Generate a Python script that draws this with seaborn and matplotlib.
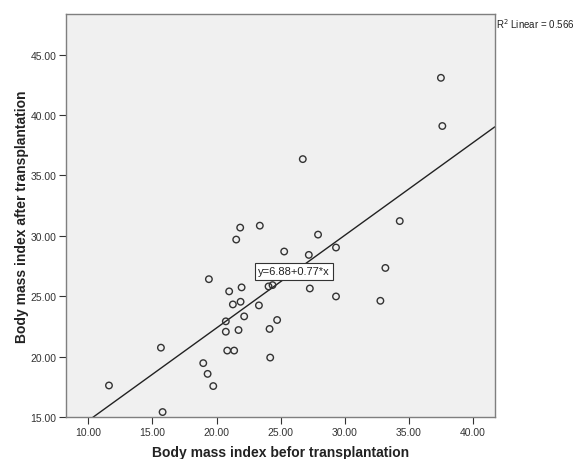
import numpy as np
import pandas as pd
import matplotlib
matplotlib.use("Agg")
import matplotlib.pyplot as plt
import seaborn as sns

# -- values
bmi_before = [11.61, 15.79, 15.66, 18.96, 19.30, 19.74, 19.40, 20.72, 20.72, 20.83,
              21.37, 20.98, 21.27, 21.71, 21.87, 21.95, 22.15, 21.53, 21.84, 23.37,
              23.30, 24.13, 24.18, 24.72, 24.05, 24.36, 25.27, 27.19, 27.27, 27.91,
              29.31, 29.31, 32.77, 33.16, 34.28, 37.49, 37.60, 26.72]
bmi_after = [17.61, 15.41, 20.74, 19.46, 18.57, 17.56, 26.41, 22.92, 22.06, 20.50,
             20.50, 25.40, 24.32, 22.20, 24.54, 25.73, 23.33, 29.69, 30.68, 30.84,
             24.24, 22.29, 19.92, 23.03, 25.81, 25.92, 28.70, 28.42, 25.64, 30.10,
             29.03, 24.98, 24.62, 27.34, 31.22, 43.08, 39.09, 36.35]
x_ticks = [10, 15, 20, 25, 30, 35, 40]
y_ticks = [15, 20, 25, 30, 35, 40, 45]
fit_label = "y=6.88+0.77*x"
r2_label = "R$^2$ Linear = 0.566"

df = pd.DataFrame({"before": bmi_before, "after": bmi_after})

sns.set_style("ticks")
plt.rcParams["font.family"] = ["Liberation Sans", "DejaVu Sans"]

fig = plt.figure(figsize=(5.74, 4.60), dpi=100)
ax = fig.add_axes([0.115, 0.0913, 0.747, 0.876])
ax.set_facecolor("#f0f0f0")
ax.set_xlim(8.26, 41.69)
ax.set_ylim(15.0, 48.36)

# fit line across the whole axis
sns.regplot(data=df, x="before", y="after", ci=None, truncate=False,
            scatter=False, color="#222222", line_kws={"lw": 1.0}, ax=ax)
sns.scatterplot(data=df, x="before", y="after", s=22, facecolor="none",
                edgecolor="#333333", linewidth=1.0, ax=ax, zorder=3)
ax.set_xlim(8.26, 41.69)
ax.set_ylim(15.0, 48.36)

ax.text(26.02, 27.07, fit_label, ha="center", va="center", fontsize=8,
        color="#222222", zorder=4,
        bbox=dict(boxstyle="square,pad=0.3", fc="white", ec="#333333", lw=0.8))

ax.set_xticks(x_ticks)
ax.set_yticks(y_ticks)
ax.set_xticklabels([f"{v:.2f}" for v in x_ticks])
ax.set_yticklabels([f"{v:.2f}" for v in y_ticks])
ax.tick_params(labelsize=7.5, colors="#333333", length=5, width=0.8,
               direction="out", pad=2)
for s in ax.spines.values():
    s.set_visible(True)
    s.set_color("#7f7f7f")
    s.set_linewidth(1.0)

ax.set_xlabel("Body mass index befor transplantation", fontsize=10,
              fontweight="bold", color="#222222", labelpad=6)
ax.set_ylabel("Body mass index after transplantation", fontsize=10,
              fontweight="bold", color="#222222", labelpad=1)

fig.text(0.864, 0.948, r2_label, fontsize=7, color="#222222", va="center")

fig.savefig("out.png", dpi=100)
